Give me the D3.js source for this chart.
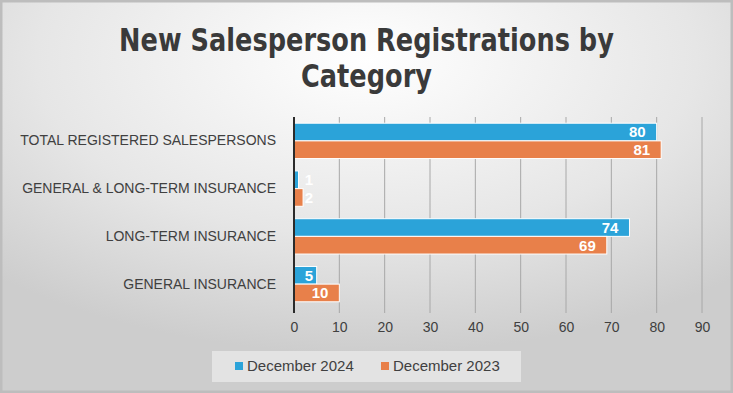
<!DOCTYPE html>
<html><head><meta charset="utf-8">
<script src="https://cdn.jsdelivr.net/npm/d3@7"></script>
<style>html,body{margin:0;padding:0;background:#fff;}svg{display:block;}</style>
</head><body><svg id="c" width="733" height="393"></svg>
<script>
const categories = ["TOTAL REGISTERED SALESPERSONS","GENERAL & LONG-TERM INSURANCE","LONG-TERM INSURANCE","GENERAL INSURANCE"];
const seriesNames = ["December 2024","December 2023"];
const dec2024 = [80, 1, 74, 5];
const dec2023 = [81, 2, 69, 10];
const xTicks = [0,10,20,30,40,50,60,70,80,90];
const colors = ["#2ba3d9","#e8804a"];
const titleLines = ["New Salesperson Registrations by","Category"];

const W = 733, H = 393;
const svg = d3.select("#c");
const defs = svg.append("defs");
const rg = defs.append("radialGradient").attr("id","bg").attr("cx","50%").attr("cy","15%").attr("r","75%");
rg.append("stop").attr("offset","0%").attr("stop-color","#ffffff");
rg.append("stop").attr("offset","60%").attr("stop-color","#e6e6e6");
rg.append("stop").attr("offset","100%").attr("stop-color","#cdcdcd");
svg.append("rect").attr("width",W).attr("height",H).attr("fill","url(#bg)");
svg.append("rect").attr("x",1).attr("y",1).attr("width",W-2).attr("height",H-2).attr("fill","none").attr("stroke","#bdbdbd").attr("stroke-width",3);

const margin = {left:294, right:31, top:117, bottom:85};
const x = d3.scaleLinear().domain([0,90]).range([margin.left, W - margin.right]);
const y = d3.scaleBand().domain(categories).range([margin.top, H - margin.bottom]).paddingInner(0.26).paddingOuter(0.13);
const ys = d3.scaleBand().domain(seriesNames).range([0, y.bandwidth()]);

// title (horizontally squeezed to mimic a narrow bold face)
const line1Target = 495;
let titleScale = 1;
titleLines.forEach((t,i)=> {
  const g = svg.append("g");
  const tx = g.append("text").attr("text-anchor","middle").attr("fill","#3a3a3a")
    .style("font-family","'DejaVu Sans',sans-serif").style("font-weight","bold").style("font-size","32px")
    .attr("x",0).attr("y",0).text(t);
  if (i === 0) {
    const w = tx.node().getComputedTextLength();
    if (w > 0) titleScale = line1Target / w;
  }
  g.attr("transform",`translate(${W/2},${51 + i*36}) scale(${titleScale},1)`);
});

// gridlines
svg.append("g").selectAll("line").data(xTicks.slice(1)).join("line")
  .attr("x1",d=>x(d)).attr("x2",d=>x(d)).attr("y1",margin.top).attr("y2",H - margin.bottom + 5)
  .attr("stroke","#a8a8a8").attr("stroke-width",1);

// x axis
const xAxis = svg.append("g").attr("transform",`translate(0,${H - margin.bottom})`)
  .call(d3.axisBottom(x).tickValues(xTicks).tickSize(0).tickPadding(14));
xAxis.select(".domain").remove();
xAxis.selectAll("text").attr("fill","#404040").style("font-family","'Liberation Sans',Arial,sans-serif").style("font-size","14px");

// y axis labels
const yAxis = svg.append("g").attr("transform",`translate(${margin.left - 18},0)`)
  .call(d3.axisLeft(y).tickSize(0).tickPadding(0));
yAxis.select(".domain").remove();
yAxis.selectAll("text").attr("fill","#404040").style("font-family","'Liberation Sans',Arial,sans-serif").style("font-size","14px");

// bars
const data = [];
categories.forEach((c,i)=>{
  data.push({cat:c, s:seriesNames[0], v:dec2024[i], col:colors[0]});
  data.push({cat:c, s:seriesNames[1], v:dec2023[i], col:colors[1]});
});
svg.append("g").selectAll("rect").data(data).join("rect")
  .attr("x",x(0)).attr("y",d=>y(d.cat)+ys(d.s)).attr("width",d=>x(d.v)-x(0)).attr("height",ys.bandwidth())
  .attr("fill",d=>d.col).attr("stroke","#ffffff").attr("stroke-width",1);

// labels
svg.append("g").selectAll("text").data(data).join("text")
  .attr("x",d=>Math.max(x(d.v)-11, x(0)+19)).attr("y",d=>y(d.cat)+ys(d.s)+ys.bandwidth()/2)
  .attr("dy","0.36em").attr("text-anchor","end").attr("fill","#ffffff")
  .style("font-family","'Liberation Sans',Arial,sans-serif").style("font-weight","bold").style("font-size","15px")
  .text(d=>d.v);

// zero axis line
svg.append("line").attr("x1",x(0)).attr("x2",x(0)).attr("y1",margin.top).attr("y2",H - margin.bottom + 5)
  .attr("stroke","#2b2b2b").attr("stroke-width",2);

// legend
const lg = svg.append("g");
lg.append("rect").attr("x",212).attr("y",351).attr("width",309).attr("height",31).attr("fill","#f2f2f2").attr("opacity",0.6);
const items = [{n:seriesNames[0],c:colors[0],x:235},{n:seriesNames[1],c:colors[1],x:381}];
items.forEach(it=>{
  lg.append("rect").attr("x",it.x).attr("y",362).attr("width",8).attr("height",8).attr("fill",it.c);
  lg.append("text").attr("x",it.x+12).attr("y",366).attr("dy","0.36em").attr("fill","#404040")
    .style("font-family","'Liberation Sans',Arial,sans-serif").style("font-size","15px").text(it.n);
});
</script></body></html>
